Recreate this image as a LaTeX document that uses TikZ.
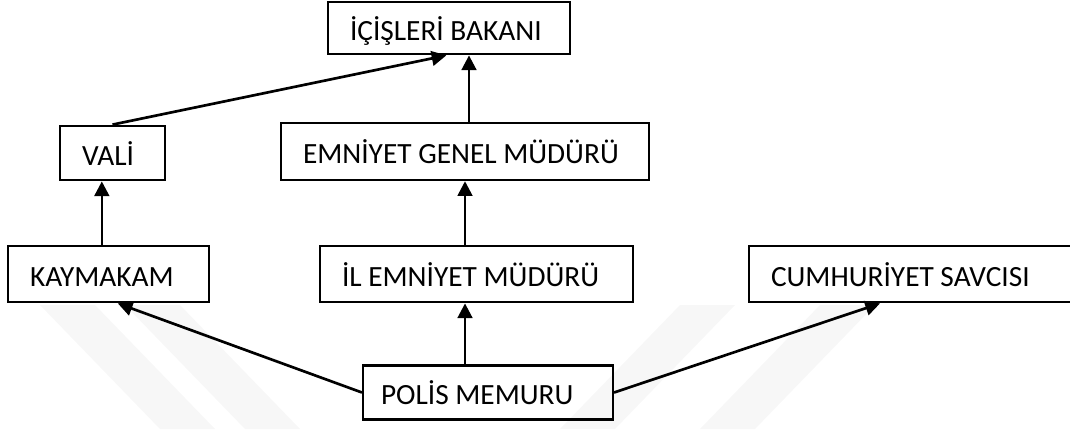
\documentclass[tikz,border=0pt]{standalone}
\usepackage{fontspec}
\setmainfont{Carlito}
\usetikzlibrary{arrows.meta}
\begin{document}
\begin{tikzpicture}[x=0.75pt, y=-0.75pt,
  box/.style={draw, line width=1.6pt, inner xsep=16.5pt, inner ysep=0pt, align=flush left,
    font=\fontsize{22}{26}\selectfont, text height=18pt, text depth=0pt},
  arr/.style={-{Triangle[length=11pt,width=11pt]}, line width=2pt},
  mark band/.style={fill=gray!6}]
\useasboundingbox (0,0) rectangle (1070,429);
\fill[mark band] (40,305) -- (95,305) -- (215,429) -- (160,429) -- cycle;
\fill[mark band] (125,305) -- (180,305) -- (300,429) -- (245,429) -- cycle;
\fill[mark band] (560,429) -- (615,429) -- (735,305) -- (680,305) -- cycle;
\fill[mark band] (700,429) -- (755,429) -- (875,305) -- (820,305) -- cycle;
\node[box, text width=148.5pt, minimum height=39.5pt] (bakan) at (449,28) {İÇİŞLERİ BAKANI};
\node[box, text width=45.75pt, minimum height=41pt] (vali) at (112.5,153) {VALİ};
\node[box, text width=243pt, minimum height=43pt] (egm) at (465,151.5) {EMNİYET GENEL MÜDÜRÜ};
\node[box, text width=117.75pt, minimum height=42.5pt] (kaymakam) at (108.5,274) {KAYMAKAM};
\node[box, text width=201.75pt, minimum height=42.5pt] (ilem) at (476.5,274) {İL EMNİYET MÜDÜRÜ};
\node[box, text width=211.5pt, minimum height=42.5pt] (savci) at (912,274) {CUMHURİYET SAVCISI};
\node[box, inner xsep=13.5pt, text width=160.5pt, minimum height=40.5pt] (polis) at (488,392.5) {POLİS MEMURU};
\draw[arr] (polis.west) -- ([xshift=7pt]kaymakam.south);
\draw[arr] (polis.north -| egm) -- (ilem.south -| egm);
\draw[arr] (polis.east) -- ([xshift=-24pt]savci.south);
\draw[arr] ([xshift=-5pt]kaymakam.north) coordinate (k1) -- (vali.south -| k1);
\draw[arr] (ilem.north -| egm) -- (egm.south);
\draw[arr] (vali.north) -- ([xshift=-2pt]bakan.south);
\draw[arr] ([xshift=3pt]egm.north) coordinate (e1) -- (bakan.south -| e1);
\end{tikzpicture}
\end{document}
